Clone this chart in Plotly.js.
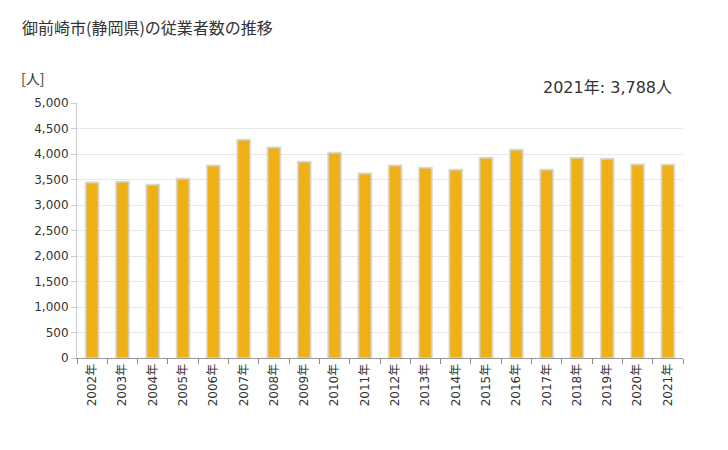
<!DOCTYPE html>
<html>
<head>
<meta charset="utf-8">
<script src="https://cdn.plot.ly/plotly-3.0.1.min.js"></script>
<style>html,body{margin:0;padding:0;background:#fff;}#chart{width:728px;height:450px;}</style>
</head>
<body>
<div id="chart"></div>
<script>
const years = ["2002年","2003年","2004年","2005年","2006年","2007年","2008年","2009年","2010年","2011年","2012年","2013年","2014年","2015年","2016年","2017年","2018年","2019年","2020年","2021年"];
const workers = [3443,3457,3398,3516,3776,4280,4129,3849,4025,3620,3776,3731,3692,3927,4084,3692,3927,3908,3796,3788];
const yTickVals = [0,500,1000,1500,2000,2500,3000,3500,4000,4500,5000];
const titleText = "御前崎市(静岡県)の従業者数の推移";
const unitText = "[人]";
const noteText = "2021年: 3,788人";

const font = "'Noto Sans CJK JP', 'Noto Sans', sans-serif";
const numFont = "'DejaVu Sans', 'Noto Sans CJK JP', sans-serif";
const plotW = 606, plotH = 255, mL = 77, mT = 103;

const trace = {
  type: 'bar',
  x: years,
  y: workers,
  width: 0.42,
  marker: {color: '#EEB015', line: {color: 'rgba(210,210,210,0.8)', width: 2}},
  hoverinfo: 'none'
};

const layout = {
  width: 728, height: 450,
  margin: {l: mL, r: 45, t: mT, b: 92},
  paper_bgcolor: '#fff', plot_bgcolor: '#fff',
  font: {family: numFont, size: 12, color: '#333'},
  showlegend: false,
  xaxis: {
    type: 'category',
    tickangle: -90,
    tickson: 'boundaries',
    ticks: 'outside', ticklen: 5, tickcolor: '#888',
    showline: true, linecolor: '#999', linewidth: 1,
    showgrid: false,
    tickfont: {family: numFont, size: 12, color: '#333'},
    fixedrange: true
  },
  yaxis: {
    range: [0, 5000],
    tickvals: yTickVals,
    tickformat: ',d',
    ticks: 'outside', ticklen: 5, tickcolor: '#ccc',
    showline: true, linecolor: '#ccc', linewidth: 1,
    gridcolor: '#e8e8e8', gridwidth: 1,
    zeroline: false,
    tickfont: {family: numFont, size: 12, color: '#333'},
    fixedrange: true
  },
  annotations: [
    {text: titleText, xref: 'paper', yref: 'paper', x: (20-mL)/plotW, y: 1 + (mT-27)/plotH, xanchor: 'left', yanchor: 'middle', showarrow: false, font: {family: font, size: 16, color: '#333'}},
    {text: unitText, xref: 'paper', yref: 'paper', x: (19-mL)/plotW, y: 1 + (mT-78)/plotH, xanchor: 'left', yanchor: 'middle', showarrow: false, font: {family: font, size: 14, color: '#333'}},
    {text: noteText, xref: 'paper', yref: 'paper', x: (674-mL)/plotW, y: 1 + (mT-87)/plotH, xanchor: 'right', yanchor: 'middle', showarrow: false, font: {family: numFont, size: 16, color: '#333'}}
  ]
};

Plotly.newPlot('chart', [trace], layout, {displayModeBar: false, staticPlot: true});
</script>
</body>
</html>
